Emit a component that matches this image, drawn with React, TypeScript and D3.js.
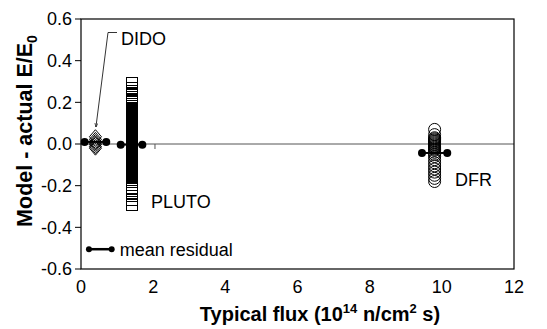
import { useEffect, useRef } from "react";
import * as d3 from "d3";

// residuals (Model - actual E/E0)
const didoFlux = 0.4;
const didoValues = [0.035, 0.022, 0.012, 0.005, -0.002, -0.012, -0.02];

const plutoFlux = 1.4;
const plutoValues = [
  0.295, 0.271, 0.255, 0.244, 0.235, 0.228, 0.218, 0.212, 0.207, 0.19, 0.175,
  0.168, 0.16, 0.155, 0.151, 0.148, 0.143, 0.139, 0.136, 0.131, 0.127, 0.124,
  0.119, 0.115, 0.112, 0.107, 0.103, 0.1, 0.095, 0.091, 0.088, 0.083, 0.079,
  0.076, 0.071, 0.067, 0.064, 0.059, 0.055, 0.052, 0.047, 0.043, 0.04, 0.035,
  0.031, 0.028, 0.023, 0.019, 0.016, 0.011, 0.007, 0.004, -0.001, -0.005,
  -0.008, -0.013, -0.017, -0.02, -0.025, -0.029, -0.032, -0.037, -0.041,
  -0.044, -0.049, -0.053, -0.056, -0.061, -0.065, -0.068, -0.073, -0.077,
  -0.08, -0.085, -0.089, -0.092, -0.097, -0.101, -0.104, -0.109, -0.113,
  -0.116, -0.121, -0.125, -0.128, -0.133, -0.137, -0.14, -0.147, -0.155,
  -0.164, -0.172, -0.18, -0.196, -0.209, -0.225, -0.236, -0.252, -0.268,
  -0.292,
];

const dfrFlux = 9.8;
const dfrValues = [
  0.07, 0.045, 0.03, 0.025, 0.02, 0.015, 0.01, 0.005, 0.0, -0.005, -0.01,
  -0.015, -0.02, -0.025, -0.03, -0.04, -0.05, -0.06, -0.075, -0.09, -0.105,
  -0.12, -0.135, -0.15, -0.165, -0.18,
];

// mean residual segments
const meanSets = ["DIDO", "PLUTO", "DFR"];
const meanLow = [0.1, 1.1, 9.45];
const meanHigh = [0.7, 1.7, 10.15];
const meanValues = [0.01, -0.003, -0.043];

const xTicks = [0, 2, 4, 6, 8, 10, 12];
const yTicks = [0.6, 0.4, 0.2, 0.0, -0.2, -0.4, -0.6];

const W = 547;
const H = 329;
const FONT = "'Liberation Sans', Arial, sans-serif";

const App = () => {
  const ref = useRef<SVGSVGElement>(null);

  useEffect(() => {
    document.body.style.margin = "0";
    const svg = d3.select(ref.current);
    svg.selectAll("*").remove();

    const margin = { top: 19, right: 33, bottom: 60, left: 81 };
    const x = d3.scaleLinear().domain([0, 12]).range([margin.left, W - margin.right]);
    const y = d3.scaleLinear().domain([-0.6, 0.6]).range([H - margin.bottom, margin.top]);

    // zero line
    svg.append("line")
      .attr("x1", x(0)).attr("x2", x(12))
      .attr("y1", y(0)).attr("y2", y(0))
      .attr("stroke", "#555").attr("stroke-width", 1);
    svg.append("line")
      .attr("x1", x(2.05)).attr("x2", x(2.05))
      .attr("y1", y(0)).attr("y2", y(0) + 5)
      .attr("stroke", "#555").attr("stroke-width", 1);

    // frame
    svg.append("rect")
      .attr("x", x(0)).attr("y", y(0.6))
      .attr("width", x(12) - x(0)).attr("height", y(-0.6) - y(0.6))
      .attr("fill", "none").attr("stroke", "#000").attr("stroke-width", 1.2);

    // y axis ticks + labels
    const ya = svg.append("g").attr("font-family", FONT).attr("font-size", 18);
    ya.selectAll("line").data(yTicks).enter().append("line")
      .attr("x1", x(0) - 6).attr("x2", x(0))
      .attr("y1", (d) => y(d)).attr("y2", (d) => y(d))
      .attr("stroke", "#000");
    ya.selectAll("text").data(yTicks).enter().append("text")
      .attr("x", x(0) - 9).attr("y", (d) => y(d))
      .attr("dy", "0.35em").attr("text-anchor", "end")
      .text((d) => d3.format(".1f")(d).replace("−", "-"));

    // x axis labels
    const xa = svg.append("g").attr("font-family", FONT).attr("font-size", 18);
    xa.selectAll("text").data(xTicks).enter().append("text")
      .attr("x", (d) => x(d)).attr("y", y(-0.6) + 24)
      .attr("text-anchor", "middle")
      .text((d) => d);

    // axis titles
    const xt = svg.append("text")
      .attr("x", 320).attr("y", 321)
      .attr("text-anchor", "middle")
      .attr("font-family", FONT).attr("font-size", 20).attr("font-weight", "bold");
    xt.append("tspan").text("Typical flux (10");
    xt.append("tspan").attr("dy", -8).attr("font-size", 13).text("14");
    xt.append("tspan").attr("dy", 8).text(" n/cm");
    xt.append("tspan").attr("dy", -8).attr("font-size", 13).text("2");
    xt.append("tspan").attr("dy", 8).text(" s)");

    const yt = svg.append("text")
      .attr("transform", `translate(32,131) rotate(-90)`)
      .attr("text-anchor", "middle")
      .attr("font-family", FONT).attr("font-size", 21.5).attr("font-weight", "bold");
    yt.append("tspan").text("Model - actual E/E");
    yt.append("tspan").attr("dy", 5).attr("font-size", 14).text("0");

    // DIDO diamonds
    svg.append("g").selectAll("path").data(didoValues).enter().append("path")
      .attr("d", (d) => {
        const cx = x(didoFlux), cy = y(d);
        return `M${cx},${cy - 7}L${cx + 6},${cy}L${cx},${cy + 7}L${cx - 6},${cy}Z`;
      })
      .attr("fill", "none").attr("stroke", "#000").attr("stroke-width", 1);

    // PLUTO squares
    svg.append("g").attr("shape-rendering", "crispEdges")
      .selectAll("rect").data(plutoValues).enter().append("rect")
      .attr("x", Math.round(x(plutoFlux)) - 5.5).attr("y", (d) => Math.round(y(d)) - 5.5)
      .attr("width", 11).attr("height", 11)
      .attr("fill", "none").attr("stroke", "#000").attr("stroke-width", 1);

    // DFR circles
    svg.append("g").selectAll("circle").data(dfrValues).enter().append("circle")
      .attr("cx", x(dfrFlux)).attr("cy", (d) => y(d)).attr("r", 6)
      .attr("fill", "none").attr("stroke", "#000").attr("stroke-width", 1);

    // mean residuals
    const means = meanSets.map((s, i) => ({ s, lo: meanLow[i], hi: meanHigh[i], v: meanValues[i] }));
    const mg = svg.append("g");
    mg.selectAll("line").data(means).enter().append("line")
      .attr("x1", (d) => x(d.lo)).attr("x2", (d) => x(d.hi))
      .attr("y1", (d) => y(d.v)).attr("y2", (d) => y(d.v))
      .attr("stroke", "#000").attr("stroke-width", 2);
    mg.selectAll("circle.lo").data(means).enter().append("circle")
      .attr("class", "lo").attr("cx", (d) => x(d.lo)).attr("cy", (d) => y(d.v)).attr("r", 4);
    mg.selectAll("circle.hi").data(means).enter().append("circle")
      .attr("class", "hi").attr("cx", (d) => x(d.hi)).attr("cy", (d) => y(d.v)).attr("r", 4);

    // legend
    const lg = svg.append("g");
    lg.append("line")
      .attr("x1", x(0.22)).attr("x2", x(0.85)).attr("y1", y(-0.505)).attr("y2", y(-0.505))
      .attr("stroke", "#000").attr("stroke-width", 2.5);
    lg.selectAll("circle").data([0.22, 0.85]).enter().append("circle")
      .attr("cx", (d) => x(d)).attr("cy", y(-0.505)).attr("r", 3);
    lg.append("text")
      .attr("x", x(0.85) + 8).attr("y", y(-0.505)).attr("dy", "0.35em")
      .attr("font-family", FONT).attr("font-size", 18).text("mean residual");

    // labels
    const ann = svg.append("g").attr("font-family", FONT).attr("font-size", 18);
    ann.append("text").attr("x", 121).attr("y", 45).text("DIDO");
    ann.append("text").attr("x", 151).attr("y", 208).text("PLUTO");
    ann.append("text").attr("x", 455).attr("y", 186).text("DFR");

    // DIDO leader with arrow
    svg.append("defs").append("marker")
      .attr("id", "arr").attr("viewBox", "0 0 10 10").attr("refX", 10).attr("refY", 5)
      .attr("markerWidth", 5).attr("markerHeight", 5).attr("orient", "auto")
      .append("path").attr("d", "M0,1L10,5L0,9").attr("fill", "none").attr("stroke", "#000").attr("stroke-width", 1.5);
    svg.append("path")
      .attr("d", `M117,32.5H108L${x(didoFlux) + 0.5},127`)
      .attr("fill", "none").attr("stroke", "#000").attr("stroke-width", 0.8)
      .attr("marker-end", "url(#arr)");
  }, []);

  return <svg ref={ref} width={W} height={H} style={{ display: "block", background: "#fff" }}></svg>;
};

export default App;
